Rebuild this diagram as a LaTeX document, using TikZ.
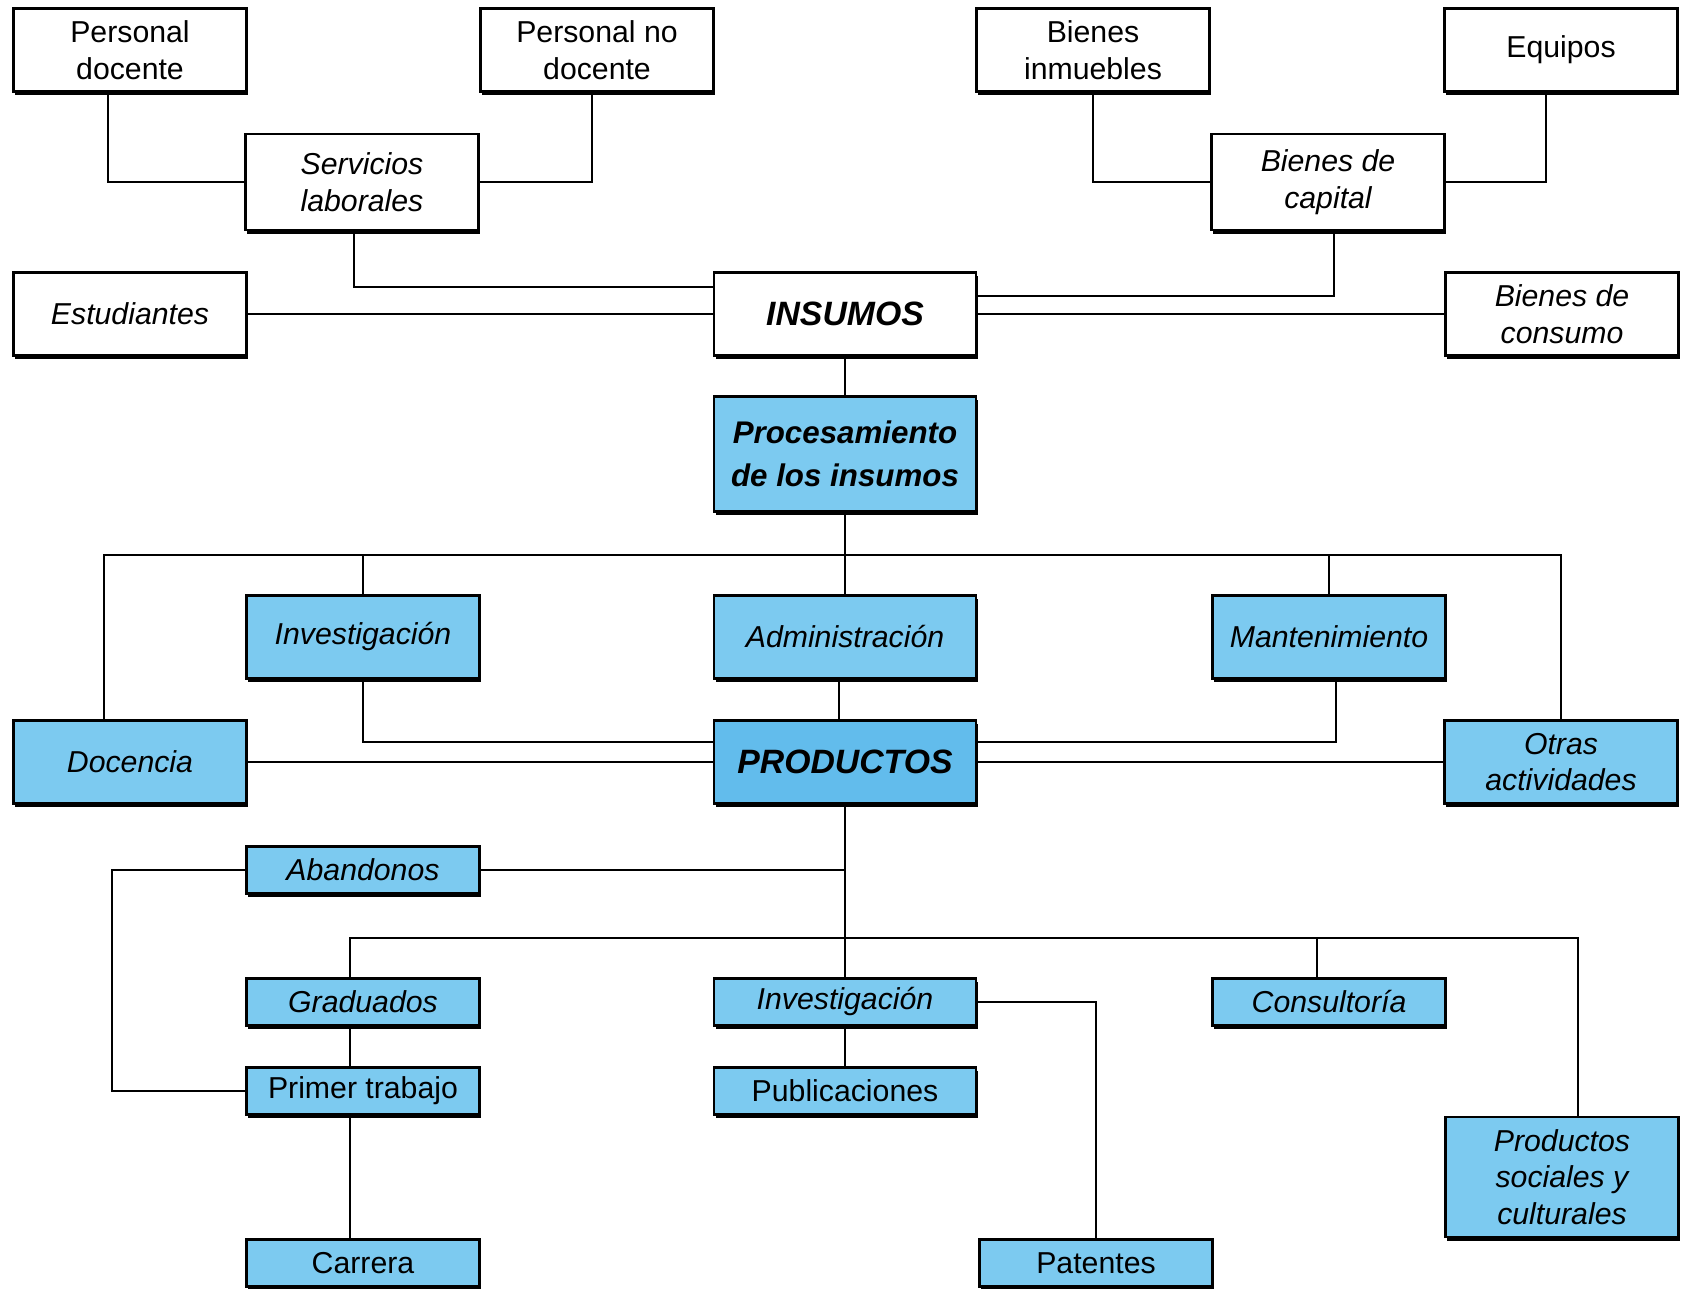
\documentclass[tikz,border=0pt]{standalone}
\usepackage{fontspec}
\setmainfont{Liberation Sans}
\usetikzlibrary{shadows}
\definecolor{azul}{RGB}{124,202,240}
\definecolor{azulosc}{RGB}{98,188,236}

\begin{document}
\begin{tikzpicture}[x=0.01cm,y=-0.01cm,font=\fontsize{8.6}{10.4}\selectfont,
   blk/.style={draw,line width=0.7pt,fill=white,align=center,inner sep=1pt,
     minimum width=2.33cm,minimum height=0.83cm,
     drop shadow={shadow xshift=0.5pt,shadow yshift=-1.1pt,fill=black,opacity=1}},
   ablk/.style={blk,fill=azul},
   wide/.style={minimum width=2.62cm},
   thin/.style={minimum height=0.47cm},
   it/.style={font=\fontsize{8.6}{10.4}\selectfont\itshape},
   bit/.style={font=\fontsize{9.6}{11}\selectfont\bfseries\itshape},
   con/.style={line width=0.5pt}]
  \useasboundingbox (0,0) rectangle (1687,1289);
  % inputs
  \node[blk] (pdoc)   at (130,50)   {Personal\\docente};
  \node[blk] (pnodoc) at (597,50)   {Personal no\\docente};
  \node[blk] (binm)   at (1093,50)  {Bienes\\inmuebles};
  \node[blk] (equip)  at (1561,50)  {Equipos};
  \node[blk,it,minimum height=0.96cm] (serv) at (362,182) {Servicios\\laborales};
  \node[blk,it,minimum height=0.96cm] (bcap) at (1328,182) {Bienes de\\capital};
  \node[blk,it]      (est)   at (130,314)  {Estudiantes};
  \node[blk,wide,bit] (ins)  at (845,314)  {INSUMOS};
  \node[blk,it]      (bcons) at (1562,314) {Bienes de\\consumo};
  % processing
  \node[ablk,wide,minimum height=1.15cm,font=\fontsize{8.9}{12.4}\selectfont\bfseries\itshape] (proc) at (845,454) {Procesamiento\\de los insumos};
  \coordinate (bus) at (845,555);
  \node[ablk,it]      (invA) at (363,637)  {Investigación};
  \node[ablk,wide,it] (adm)  at (845,637)  {Administración};
  \node[ablk,it]      (mant) at (1329,637) {Mantenimiento};
  \node[ablk,it]      (doc)  at (130,762)  {Docencia};
  \node[ablk,wide,bit,fill=azulosc] (prod) at (845,762) {PRODUCTOS};
  \node[ablk,it]      (otras) at (1561,762) {Otras\\actividades};
  % products
  \node[ablk,thin,it] (aband) at (363,870)  {Abandonos};
  \coordinate (bus2) at (845,938);
  \node[ablk,thin,it]      (grad) at (363,1002)  {Graduados};
  \node[ablk,thin,wide,it] (invB) at (845,1002)  {Investigación};
  \node[ablk,thin,it]      (cons) at (1329,1002) {Consultoría};
  \node[ablk,thin]      (prim) at (363,1091)  {Primer trabajo};
  \node[ablk,thin,wide] (publ) at (845,1091)  {Publicaciones};
  \node[ablk,it,minimum height=1.2cm] (psoc) at (1562,1177) {Productos\\sociales y\\culturales};
  \node[ablk,thin] (carr) at (363,1263)  {Carrera};
  \node[ablk,thin] (pat)  at (1096,1263) {Patentes};
  % connectors: inputs
  \draw[con] ([xshift=-0.22cm]pdoc.south) |- (serv.west);
  \draw[con] ([xshift=-0.05cm]pnodoc.south) |- (serv.east);
  \draw[con] (binm.south) |- (bcap.west);
  \draw[con] ([xshift=-0.15cm]equip.south) |- (bcap.east);
  \draw[con] ([xshift=-0.08cm]serv.south) |- ([yshift=0.27cm]ins.west);
  \draw[con] (est) -- (ins);
  \draw[con] ([xshift=0.06cm]bcap.south) |- ([yshift=0.18cm]ins.east);
  \draw[con] (bcons) -- (ins);
  \draw[con] (ins) -- (proc);
  % connectors: processing
  \draw[con] ([xshift=-0.26cm]doc.north) |- (bus) -| (otras.north);
  \draw[con] (proc) -- (adm);
  \draw[con] (invA.north) -- (invA.north |- bus);
  \draw[con] (mant.north) -- (mant.north |- bus);
  \draw[con] ([xshift=-0.06cm]adm.south) -- ([xshift=-0.06cm]prod.north);
  \draw[con] (invA.south) |- ([yshift=0.2cm]prod.west);
  \draw[con] (doc) -- (prod);
  \draw[con] ([xshift=0.07cm]mant.south) |- ([yshift=0.2cm]prod.east);
  \draw[con] (otras) -- (prod);
  % connectors: products
  \draw[con] (prod) -- (invB);
  \draw[con] (aband) -- (aband -| prod.south);
  \draw[con] (aband.west) -- ++(-133,0) |- (prim.west);
  \draw[con] ([xshift=-0.13cm]grad.north) |- (bus2) -| ([xshift=0.16cm]psoc.north);
  \coordinate (ccons) at ([xshift=-0.12cm]cons.north);
  \draw[con] (ccons) -- (ccons |- bus2);
  \draw[con] ([xshift=-0.13cm]grad.south) -- ([xshift=-0.13cm]prim.north);
  \draw[con] ([xshift=-0.13cm]prim.south) -- ([xshift=-0.13cm]carr.north);
  \draw[con] (invB) -- (publ);
  \draw[con] (invB.east) -| (pat.north);
\end{tikzpicture}
\end{document}
